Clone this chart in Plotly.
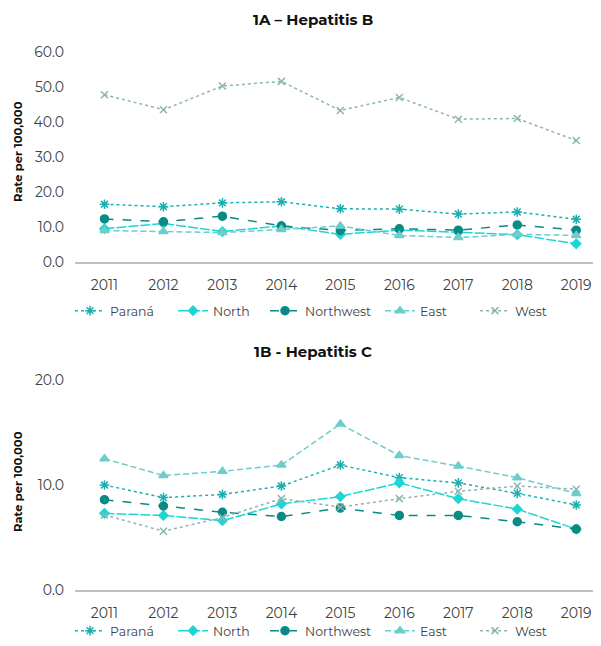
import plotly.graph_objects as go

years = ["2011", "2012", "2013", "2014", "2015", "2016", "2017", "2018", "2019"]
series_names = ["Paraná", "North", "Northwest", "East", "West"]

hepB_parana = [16.5, 15.8, 16.9, 17.2, 15.2, 15.1, 13.7, 14.3, 12.2]
hepB_north = [9.5, 11.0, 8.7, 10.3, 7.9, 9.1, 8.5, 7.8, 5.2]
hepB_northwest = [12.3, 11.5, 13.1, 10.3, 9.0, 9.5, 9.1, 10.6, 9.1]
hepB_east = [9.0, 8.7, 8.4, 9.3, 10.3, 7.6, 7.0, 7.9, 7.6]
hepB_west = [47.8, 43.5, 50.3, 51.6, 43.3, 47.0, 40.8, 41.0, 34.7]

hepC_parana = [10.0, 8.8, 9.1, 9.9, 11.9, 10.7, 10.2, 9.2, 8.1]
hepC_north = [7.3, 7.1, 6.6, 8.2, 8.9, 10.2, 8.7, 7.7, 5.8]
hepC_northwest = [8.6, 8.0, 7.4, 7.0, 7.8, 7.1, 7.1, 6.5, 5.8]
hepC_east = [12.5, 10.9, 11.3, 11.9, 15.8, 12.8, 11.8, 10.7, 9.2]
hepC_west = [7.15, 5.6, 6.9, 8.7, 7.9, 8.7, 9.4, 9.9, 9.6]

styles = {
    "Paraná": dict(color="#1AAFB0", dash="dot", symbol="asterisk-open", size=8),
    "North": dict(color="#1CD6D6", dash="10px,2px", symbol="diamond", size=7),
    "Northwest": dict(color="#0B8A84", dash="dash", symbol="circle", size=8),
    "East": dict(color="#6DCDCB", dash="6px,3px", symbol="triangle-up", size=8),
    "West": dict(color="#8DB5B2", dash="dot", symbol="x-thin-open", size=7),
}

# page has an 8px body margin: layout positions below are page pixels minus that offset
OFF = 8
W, H = 601 - OFF, 646 - OFF
L, R = 75 - OFF, 0
plot_w = W - L - R

def py(page_y):
    return 1 - (page_y - OFF) / H

def pxx(page_x):
    return (page_x - OFF - L) / plot_w

legend_x_page = [70, 173, 265, 380, 475]

fig = go.Figure()

legend_font = dict(family="Montserrat, Open Sans, sans-serif", size=12.5, color="#404040")
legends = {}
k = 0
for data, xa, ya, ly in [
    ([hepB_parana, hepB_north, hepB_northwest, hepB_east, hepB_west], "x", "y", py(311)),
    ([hepC_parana, hepC_north, hepC_northwest, hepC_east, hepC_west], "x2", "y2", 0),
]:
    for i, (name, vals) in enumerate(zip(series_names, data)):
        k += 1
        lname = "legend" if k == 1 else f"legend{k}"
        legends[lname] = dict(
            orientation="h", x=pxx(legend_x_page[i]), y=ly, xanchor="left",
            yanchor="middle" if ly else "bottom", font=legend_font, itemwidth=30,
            bgcolor="rgba(0,0,0,0)")
        s = styles[name]
        fig.add_trace(go.Scatter(
            x=years, y=vals, name=name, mode="lines+markers",
            xaxis=xa, yaxis=ya, legend=lname,
            line=dict(color=s["color"], dash=s["dash"], width=1.5),
            marker=dict(symbol=s["symbol"], size=s["size"], color=s["color"],
                        line=dict(color=s["color"], width=1.5)),
        ))

axis_font = dict(family="Montserrat, Open Sans, sans-serif", size=14, color="#404040")

common_x = dict(type="category", range=[-0.5, 8.42], showgrid=False, showline=True,
                linecolor="#BFBFBF", linewidth=2, ticks="", tickfont=axis_font,
                ticklabelstandoff=9, zeroline=False, domain=[0, 1], automargin=False)
common_y = dict(dtick=10, tickformat=".1f", showgrid=False, showline=False,
                zeroline=False, tickfont=axis_font, ticks="", ticklabelstandoff=10,
                automargin=False)
fig.update_layout(
    width=W, height=H,
    margin=dict(l=L, r=R, t=0, b=0),
    paper_bgcolor="white", plot_bgcolor="white",
    xaxis=dict(common_x, anchor="y"),
    xaxis2=dict(common_x, anchor="y2"),
    yaxis=dict(common_y, range=[0, 60], domain=[py(262), py(52)], anchor="x"),
    yaxis2=dict(common_y, range=[0, 20], domain=[py(590), py(380)], anchor="x2"),
    showlegend=True,
    **legends,
)

title_font = dict(family="Montserrat, Open Sans, sans-serif", size=15, color="#111111")
ytitle_font = dict(family="Montserrat, Open Sans, sans-serif", size=11.5, color="#111111")
fig.add_annotation(text="<b>1A – Hepatitis B</b>", x=pxx(313), y=py(20), xref="paper", yref="paper",
                   showarrow=False, font=title_font, xanchor="center", yanchor="middle")
fig.add_annotation(text="<b>1B - Hepatitis C</b>", x=pxx(313), y=py(351), xref="paper", yref="paper",
                   showarrow=False, font=title_font, xanchor="center", yanchor="middle")
fig.add_annotation(text="<b>Rate per 100,000</b>", x=pxx(18), y=py(152), xref="paper", yref="paper",
                   showarrow=False, font=ytitle_font, textangle=-90, xanchor="center", yanchor="middle")
fig.add_annotation(text="<b>Rate per 100,000</b>", x=pxx(18), y=py(482), xref="paper", yref="paper",
                   showarrow=False, font=ytitle_font, textangle=-90, xanchor="center", yanchor="middle")

fig.write_html("out.html")
